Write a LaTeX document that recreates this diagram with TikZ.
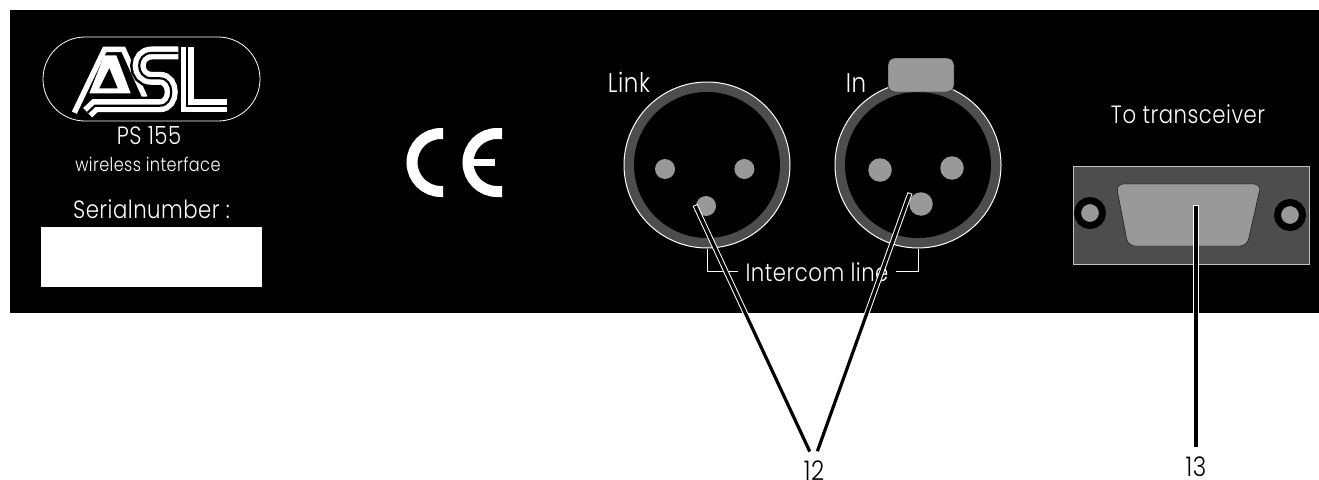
\documentclass[tikz,border=0pt]{standalone}
\usepackage{fontspec}
\setmainfont[FakeStretch=0.85,LetterSpace=2]{Poppins Light}
\usetikzlibrary{positioning}
\definecolor{ringgrey}{HTML}{4D4D4D}
\definecolor{pingrey}{HTML}{999999}

\tikzstyle{caption}=[text=white,inner sep=0pt,anchor=base,font=\fontsize{25}{28}\selectfont]
\tikzstyle{small caption}=[caption,font=\fontsize{19}{22}\selectfont]
\tikzstyle{number}=[text=black,inner sep=0pt,anchor=base,font=\fontsize{27}{30}\selectfont]
\tikzstyle{jack}=[circle,draw=white,fill=ringgrey,line width=1pt,minimum size=166pt,inner sep=0pt]
\tikzstyle{jack hole}=[circle,fill=black,minimum size=146pt,inner sep=0pt]
\tikzstyle{linkpin}=[circle,fill=pingrey,minimum size=20pt,inner sep=0pt]
\tikzstyle{inpin}=[circle,fill=pingrey,minimum size=23.5pt,inner sep=0pt]
\tikzstyle{screw}=[circle,draw=black,fill=pingrey,line width=7pt,minimum size=25pt,inner sep=0pt]
\tikzstyle{leader}=[draw=black,line width=3.2pt,shorten <=1pt,shorten >=10pt,
  preaction={draw=white,line width=5.2pt,shorten <=0pt}]
\tikzstyle{letter}=[draw=white,double=black,line width=5.4pt,double distance=2.2pt,miter limit=8]
\tikzstyle{letter halo}=[letter,preaction={draw=black,line width=18pt}]

\begin{document}
\begin{tikzpicture}[x=1pt,y=-1pt]
	\useasboundingbox (0,0) rectangle (1319,479);
	\fill[black] (10,10) rectangle (1319,313);

	% logo
	\draw[white,line width=0.8pt,rounded corners=42pt] (43,37) rectangle (260,121);
	\begin{scope}[shift={(70,40)},scale=0.3333]
		\draw[white,line width=5.4pt,miter limit=8] (13,218) -- (104,28) -- (160,28) -- (225,172);
		\fill[white] (103,46) -- (139,46) -- (182,160) -- (58,160) -- cycle;
		\fill[black] (118,85) -- (88,145) -- (143,145) -- cycle;
		\draw[letter halo] (325,39) -- (245,39) .. controls (195,39) and (195,115) .. (245,115)
			-- (270,115) .. controls (315,115) and (315,197) .. (270,197) -- (75,197) -- (53,218);
		\draw[letter] (352,20) -- (352,197) -- (470,197);
	\end{scope}
	\node[caption] (model) at (149,144) {PS 155};
	\node[small caption] (device) at (148,171) {wireless interface};
	\node[caption] (serial) at (151.5,218) {Serialnumber :};
	\fill[white] (41,227) rectangle (262,287);

	% CE mark
	\draw[white,line width=11pt] (443,133.5) -- (441,133.5) arc[start angle=-90,end angle=-270,radius=29] -- (443,191.5);
	\draw[white,line width=11pt] (502,133.5) -- (497,133.5) arc[start angle=-90,end angle=-270,radius=29] -- (502,191.5);
	\fill[white] (472,159) rectangle (495,166);

	% link jack
	\node[jack] (linkjack) at (707,165) {};
	\node[jack hole] at (linkjack) {};
	\node[linkpin] (link1) at (665,169) {};
	\node[linkpin] (link2) [right=59pt of link1] {};
	\node[linkpin] (link3) at (706,206) {};
	\node[caption,font=\fontsize{27}{30}\selectfont] (linklabel) at (629,92) {Link};

	% in jack
	\node[jack] (injack) at (918,165) {};
	\node[jack hole] at (injack) {};
	\draw[fill=pingrey,draw=black,rounded corners=7pt] (888,58) rectangle (954,92);
	\node[inpin] (in1) at (880,170) {};
	\node[inpin] (in2) at (952,168) {};
	\node[inpin] (in3) at (921,204) {};
	\node[caption,font=\fontsize{27}{30}\selectfont] (inlabel) at (856,92) {In};

	% bracket
	\node[caption,inner xsep=7pt] (intercom) at (817,281) {Intercom line};
	\draw[white,line width=0.8pt] (linkjack.south) |- (intercom.west);
	\draw[white,line width=0.8pt] (injack.south) |- (intercom.east);

	% sub-d
	\node[caption] (transceiver) at (1188,123) {To transceiver};
	\draw[fill=ringgrey,draw=pingrey!60!white,line width=1pt] (1073,166) rectangle (1309,264);
	\draw[fill=pingrey,draw=black,rounded corners=7pt] (1116,184) -- (1261,184) -- (1247,246) -- (1128,246) -- cycle;
	\node[screw] (screwl) at (1090,213) {};
	\node[screw] (screwr) at (1290,215) {};

	% numbers
	\node[number] (n12) at (814,480.5) {12};
	\node[number] (n13) at (1196,476.5) {13};
	\coordinate (linkend) at (695,205);
	\coordinate (inend) at (910,193);
	\coordinate (subdend) at (1196,205);
	\coordinate (n12top) at (n12.north);
	\path[leader] (linkend) -- (n12top);
	\path[leader] (inend) -- (n12top);
	\path[leader] (subdend) -- (n13.north);
\end{tikzpicture}
\end{document}
